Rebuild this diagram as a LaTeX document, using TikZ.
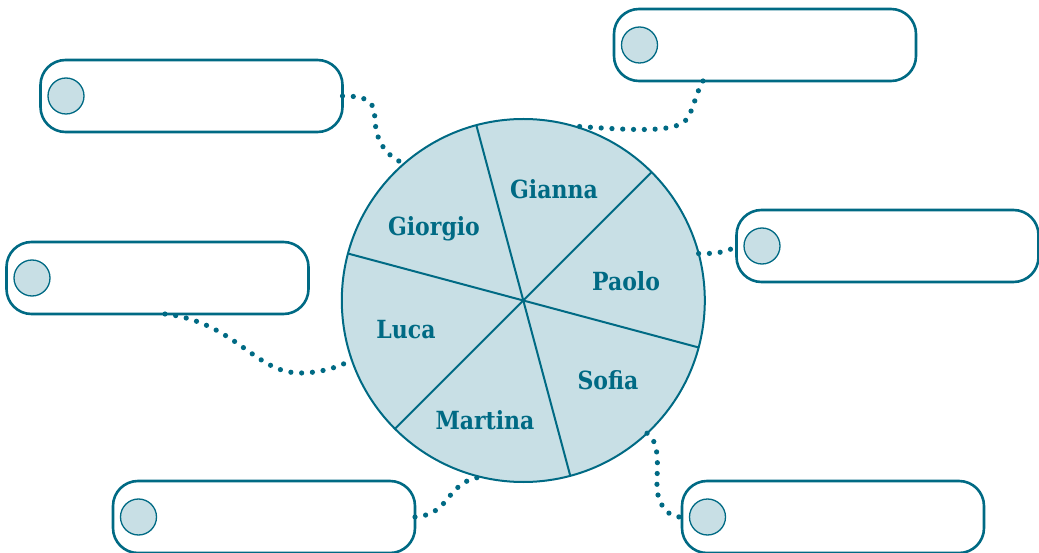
\documentclass[tikz,border=0pt]{standalone}
\usepackage{fontspec}
\newfontfamily\lblfont{DejaVu Serif}[FakeStretch=0.88]
\definecolor{tealc}{RGB}{0,106,132}
\definecolor{pale}{RGB}{200,223,229}
\begin{document}
\begin{tikzpicture}[x=1pt,y=-1pt,
  box/.style={draw=tealc, line width=2.6pt, fill=white, rounded corners=25pt,
    minimum width=302pt, minimum height=72pt, inner sep=0pt, outer sep=0pt},
  bullet/.style={circle, draw=tealc, line width=1.3pt, fill=pale,
    minimum size=36pt, inner sep=0pt},
  lbl/.style={text=tealc, font=\lblfont\bfseries\fontsize{25}{25}\selectfont,
    inner sep=0pt, text height=18pt, text depth=0pt},
  dots/.style={draw=tealc, line width=5.2pt, line cap=round,
    dash pattern=on 0pt off 10.8pt},
  sector/.style={draw=tealc, line width=2pt}]
\useasboundingbox (0,0) rectangle (1039,553);
% pie
\node[circle, draw=tealc, fill=pale, line width=2pt, minimum size=363pt,
  inner sep=0pt, outer sep=0pt] (pie) at (523.3,300.5) {};
\draw[sector] (pie.105) -- (pie.285);
\draw[sector] (pie.45) -- (pie.225);
\draw[sector] (pie.165) -- (pie.345);
\node[lbl] (gianna) at (554,190) {Gianna};
\node[lbl] (giorgio) at (434,227) {Giorgio};
\node[lbl] (paolo) at (626,282) {Paolo};
\node[lbl] (luca) at (406,330) {Luca};
\node[lbl] (martina) at (485,420) {Martina};
\node[lbl] (sofia) at (608,380) {Sofia};
% boxes
\node[box] (b1) at (191.5,96) {};
\node[box] (b2) at (157.5,278) {};
\node[box] (b3) at (765,45) {};
\node[box] (b4) at (887.5,246) {};
\node[box] (b5) at (264,517) {};
\node[box] (b6) at (833,517) {};
\foreach \b in {b1,b2,b3,b4,b5,b6}
  \node[bullet] (\b c) at ([xshift=25.5pt]\b.west) {};
% connectors
\draw[dots] (b1.east) .. controls (372,96) and (374,104) .. (375,120)
  .. controls (376,145) and (390,158) .. (pie.131.5);
\draw[dots] ([xshift=-62pt]b3.south) .. controls (695,95) and (693,112) .. (686,120)
  .. controls (675,132) and (640,131) .. (pie.74);
\draw[dots] (pie.15.5) .. controls (715,254) and (728,252) .. (b4.west);
\draw[dots] ([xshift=7.5pt]b2.south) .. controls (235,322) and (255,373) .. (300,373)
  .. controls (320,373) and (340,367) .. (pie.199.6);
\draw[dots] (b5.east) .. controls (440,515) and (445,500) .. (455,490)
  .. controls (465,480) and (475,477) .. (pie.257);
\draw[dots] (pie.313.7) .. controls (664,445) and (654,480) .. (658,495)
  .. controls (661,508) and (670,518) .. (b6.west);
\end{tikzpicture}
\end{document}
